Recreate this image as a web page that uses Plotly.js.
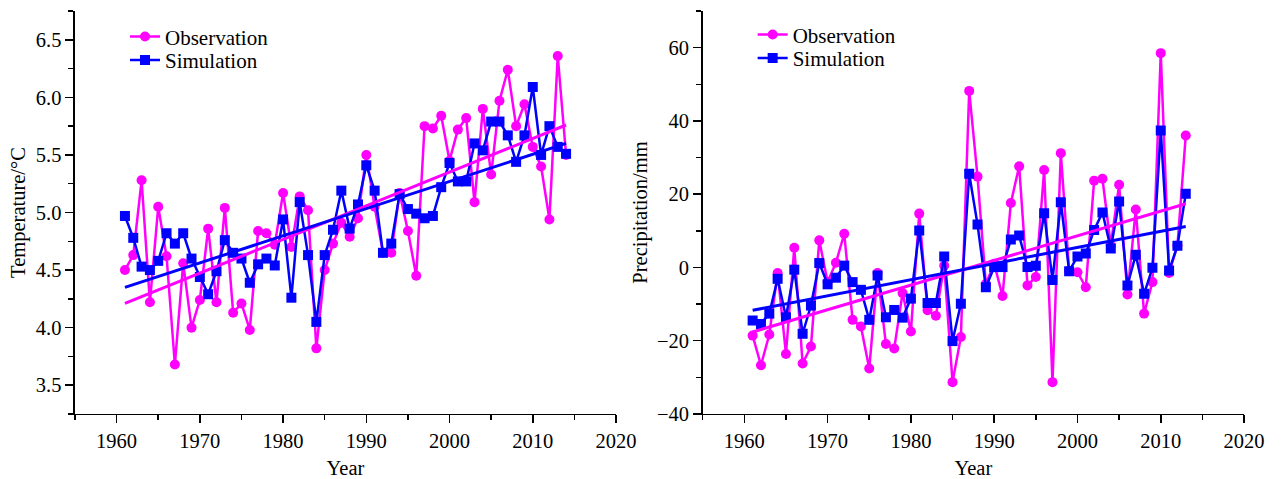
<!DOCTYPE html>
<html><head><meta charset="utf-8">
<script src="https://cdn.plot.ly/plotly-3.0.1.min.js"></script>
<style>html,body{margin:0;padding:0;background:#fff}#chart{width:1282px;height:479px}</style>
</head><body><div id="chart"></div>
<script>
const tempYears = [1961,1962,1963,1964,1965,1966,1967,1968,1969,1970,1971,1972,1973,1974,1975,1976,1977,1978,1979,1980,1981,1982,1983,1984,1985,1986,1987,1988,1989,1990,1991,1992,1993,1994,1995,1996,1997,1998,1999,2000,2001,2002,2003,2004,2005,2006,2007,2008,2009,2010,2011,2012,2013,2014];
const tempObs = [4.50,4.63,5.28,4.22,5.05,4.62,3.68,4.56,4.00,4.24,4.86,4.22,5.04,4.13,4.21,3.98,4.84,4.82,4.72,5.17,4.70,5.14,5.02,3.82,4.50,4.73,4.91,4.79,4.95,5.50,5.05,4.65,4.65,5.17,4.84,4.45,5.75,5.73,5.84,5.45,5.72,5.82,5.09,5.90,5.33,5.97,6.24,5.75,5.94,5.57,5.40,4.94,6.36,5.50];
const tempSim = [4.97,4.78,4.53,4.50,4.58,4.82,4.73,4.82,4.60,4.44,4.29,4.49,4.76,4.65,4.60,4.39,4.55,4.60,4.54,4.94,4.26,5.09,4.63,4.05,4.63,4.85,5.19,4.86,5.07,5.41,5.19,4.65,4.73,5.16,5.03,4.99,4.95,4.97,5.22,5.43,5.27,5.27,5.60,5.54,5.79,5.79,5.67,5.44,5.67,6.09,5.50,5.75,5.57,5.51];
const tempTrendYears = [1961, 2014];
const tempObsTrend = [4.21, 5.76];
const tempSimTrend = [4.35, 5.60];

const precYears = [1961,1962,1963,1964,1965,1966,1967,1968,1969,1970,1971,1972,1973,1974,1975,1976,1977,1978,1979,1980,1981,1982,1983,1984,1985,1986,1987,1988,1989,1990,1991,1992,1993,1994,1995,1996,1997,1998,1999,2000,2001,2002,2003,2004,2005,2006,2007,2008,2009,2010,2011,2012,2013];
const precObs = [-18.6,-26.7,-18.3,-1.5,-23.6,5.4,-26.2,-21.6,7.4,-4.0,1.3,9.2,-14.3,-16.1,-27.6,-1.5,-20.9,-22.1,-7.0,-17.5,14.7,-11.7,-13.2,0.5,-31.3,-19.0,48.2,24.8,-4.5,1.0,-7.8,17.6,27.6,-4.9,-2.6,26.6,-31.3,31.2,-1.0,-1.3,-5.4,23.7,24.2,6.0,22.6,-7.4,15.8,-12.6,-4.0,58.5,-1.5,6.0,36.0];
const precSim = [-14.5,-15.4,-12.6,-3.1,-13.6,-0.6,-18.1,-10.4,1.2,-4.6,-2.8,0.5,-4.0,-6.1,-14.3,-2.2,-13.6,-11.6,-13.7,-8.5,10.1,-9.7,-9.7,3.0,-20.1,-9.9,25.6,11.7,-5.4,0.1,0.1,7.6,8.7,0.1,0.5,14.8,-3.4,17.8,-1.0,3.0,3.8,10.2,15.0,5.2,18.0,-4.9,3.5,-7.2,-0.1,37.4,-0.8,5.9,20.1];
const precTrendYears = [1961, 2013];
const precObsTrend = [-17.6, 17.4];
const precSimTrend = [-11.7, 11.2];

const seriesNames = ['Observation', 'Simulation'];
const MAG = '#ff00ff', BLU = '#0000ff';
const FONT = 'Liberation Serif, Times New Roman, serif';
const FS = 20.5;

function series(x, y, name, color, symbol, xa, ya, leg) {
  return {x, y, name, type: 'scatter', mode: 'lines+markers', xaxis: xa, yaxis: ya, legend: leg,
    line: {color, width: 2.5}, marker: {color, symbol, size: 10}};
}
function trend(x, y, color, xa, ya) {
  return {x, y, type: 'scatter', mode: 'lines', xaxis: xa, yaxis: ya, showlegend: false,
    line: {color, width: 3}, hoverinfo: 'skip'};
}

const data = [
  series(tempYears, tempObs, seriesNames[0], MAG, 'circle', 'x', 'y', 'legend'),
  series(tempYears, tempSim, seriesNames[1], BLU, 'square', 'x', 'y', 'legend2'),
  trend(tempTrendYears, tempObsTrend, MAG, 'x', 'y'),
  trend(tempTrendYears, tempSimTrend, BLU, 'x', 'y'),
  series(precYears, precObs, seriesNames[0], MAG, 'circle', 'x2', 'y2', 'legend3'),
  series(precYears, precSim, seriesNames[1], BLU, 'square', 'x2', 'y2', 'legend4'),
  trend(precTrendYears, precObsTrend, MAG, 'x2', 'y2'),
  trend(precTrendYears, precSimTrend, BLU, 'x2', 'y2')
];

function xax(domain, anchor) {
  return {domain, anchor, range: [1955, 2020], tick0: 1960, dtick: 10,
    ticks: 'outside', ticklen: 8, tickwidth: 1.5, tickcolor: '#000',
    showline: true, linecolor: '#000', linewidth: 1.5, showgrid: false, zeroline: false,
    minor: {tick0: 1955, dtick: 5, ticks: 'outside', ticklen: 5, tickwidth: 1.5, tickcolor: '#000', showgrid: false},
    tickfont: {family: FONT, size: FS, color: '#000'},
    title: {text: 'Year', font: {family: FONT, size: FS, color: '#000'}, standoff: 10}};
}
function yax(domain, anchor, range, tick0, dtick, minorD, fmt, title) {
  return {domain, anchor, range, tick0, dtick, tickformat: fmt,
    ticks: 'outside', ticklen: 8, tickwidth: 1.5, tickcolor: '#000',
    showline: true, linecolor: '#000', linewidth: 1.5, showgrid: false, zeroline: false,
    minor: {dtick: minorD, ticks: 'outside', ticklen: 5, tickwidth: 1.5, tickcolor: '#000', showgrid: false},
    tickfont: {family: FONT, size: FS, color: '#000'},
    title: {text: title, font: {family: FONT, size: FS, color: '#000'}, standoff: 4}};
}
function leg(x, y) {
  return {x, y, xanchor: 'left', yanchor: 'top', bgcolor: 'rgba(0,0,0,0)',
    font: {family: FONT, size: 21, color: '#000'}};
}

const yDom = [0.1357, 0.977];
const layout = {
  width: 1282, height: 479,
  margin: {l: 0, r: 0, t: 0, b: 0},
  paper_bgcolor: '#fff', plot_bgcolor: '#fff',
  font: {family: FONT, color: '#000'},
  xaxis: xax([0.0585, 0.4805], 'y'),
  yaxis: yax(yDom, 'x', [3.25, 6.75], 3.5, 0.5, 0.25, '.1f', 'Temperature/°C'),
  xaxis2: xax([0.5481, 0.9704], 'y2'),
  yaxis2: yax(yDom, 'x2', [-40, 70], -40, 20, 10, '', 'Precipitation/mm'),
  legend: leg(0.0975, 0.966),
  legend2: leg(0.0975, 0.917),
  legend3: leg(0.5871, 0.970),
  legend4: leg(0.5871, 0.921),
  showlegend: true
};

Plotly.newPlot('chart', data, layout, {displayModeBar: false, staticPlot: true});
</script>
</body></html>
